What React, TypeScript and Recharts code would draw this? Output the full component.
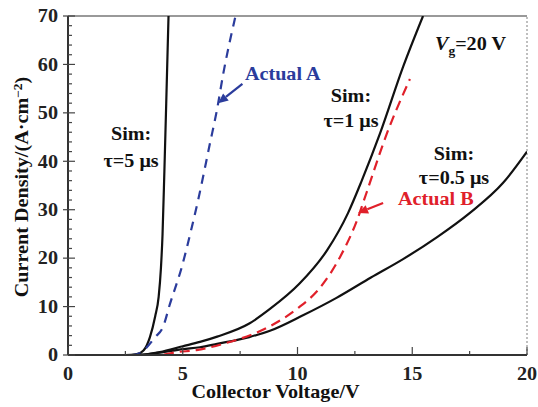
import { LineChart, Line, XAxis, YAxis, ReferenceLine, ReferenceDot } from 'recharts';

// Collector voltage (V) / current density (A·cm^-2) readings per curve
const sim5V = [0, 2.5, 3.0, 3.3, 3.57, 3.8, 3.95, 4.05, 4.12, 4.2, 4.28, 4.38];
const sim5J = [0, 0, 0.2, 1, 3.7, 8, 12, 18, 25, 38, 52, 70];

const actualAV = [0, 2.8, 3.2, 3.8, 4.14, 4.44, 4.96, 5.4, 5.67, 6.19, 6.49, 6.77, 7.3];
const actualAJ = [0, 0, 0.6, 3.7, 5.8, 10.5, 18.2, 26.5, 32, 43.8, 50.6, 58.2, 70];

const sim1V = [0, 3.0, 4, 5, 5.75, 6.5, 7.9, 8.8, 10.1, 11.3, 12.2, 12.8, 13.6, 14.6, 15.47];
const sim1J = [0, 0, 0.6, 1.8, 2.7, 3.8, 6.5, 9.5, 14.8, 21.7, 29.3, 36, 45.8, 59.5, 70];

const sim05V = [0, 3.0, 4, 5, 5.75, 6.5, 7.9, 8.8, 10.24, 11.7, 13.2, 14.6, 16.1, 17.5, 18.95, 20];
const sim05J = [0, 0, 0.5, 1.2, 1.6, 2.3, 3.7, 5.0, 8.2, 11.8, 16, 19.8, 24.4, 29.3, 35.5, 42];

const actualBV = [0, 4.0, 4.75, 5.6, 6.9, 8.0, 8.9, 10.0, 11.0, 11.85, 12.6, 13.0, 13.9, 14.9];
const actualBJ = [0, 0, 0.6, 1, 2.5, 4.2, 6.2, 9.6, 14, 20.2, 27.9, 33.4, 45.8, 57];

const xTicks = [0, 2.5, 5, 7.5, 10, 12.5, 15, 17.5, 20];
const yTicks = [0, 2, 4, 6, 8, 10, 12, 14, 16, 18, 20, 22, 24, 26, 28, 30, 32, 34, 36, 38, 40, 42, 44, 46, 48, 50, 52, 54, 56, 58, 60, 62, 64, 66, 68, 70];
const xMajor = [0, 5, 10, 15, 20];

const toPoints = (vs: number[], js: number[]) => vs.map((v, i) => ({ v, j: js[i] }));

const FONT = '"Liberation Serif", "Times New Roman", serif';
const BLUE = '#2b3c9c';
const RED = '#e0202a';
const FS = 18;
const S = 1.12; // type is set a little wide

// widen text horizontally around its anchor x
const wide = (ax: number) => `matrix(${S},0,0,1,${(1 - S) * ax},0)`;

const YTick = (props: any) => {
  const { x, y, payload } = props;
  const axisX = x + 8;
  const major = payload.value % 10 === 0;
  const tx = x - 2;
  return (
    <g>
      <line x1={major ? axisX - 5 : axisX} x2={axisX + (major ? 7 : 4)} y1={y} y2={y} stroke="#444" strokeWidth={1.2} />
      {major && (
        <text x={tx} y={y} dy="0.35em" textAnchor="end" transform={wide(tx)} fontFamily={FONT} fontWeight="bold" fontSize={FS} fill="#222">
          {payload.value}
        </text>
      )}
    </g>
  );
};

const XTick = (props: any) => {
  const { x, y, payload } = props;
  const axisY = y - 12;
  const major = xMajor.includes(payload.value);
  return (
    <g>
      <line x1={x} x2={x} y1={axisY} y2={axisY - (major ? 8 : 4)} stroke="#444" strokeWidth={1.2} />
      {major && (
        <text x={x} y={y} dy="0.71em" textAnchor="middle" transform={wide(x)} fontFamily={FONT} fontWeight="bold" fontSize={FS} fill="#222">
          {payload.value}
        </text>
      )}
    </g>
  );
};

// two-line "Sim:" notes centred on the dot
const simNote = (tau: string, gap: number) => (p: any) => {
  const { x, y } = p.viewBox;
  return (
    <text x={x} y={y} textAnchor="middle" transform={wide(x)} fontFamily={FONT} fontWeight="bold" fontSize={FS} fill="#111">
      <tspan x={x}>Sim:</tspan>
      <tspan x={x} dy={gap}>{`τ=${tau} μs`}</tspan>
    </text>
  );
};

const plainNote = (text: string, color: string) => (p: any) => {
  const { x, y } = p.viewBox;
  return (
    <text x={x} y={y} transform={wide(x)} fontFamily={FONT} fontWeight="bold" fontSize={FS} fill={color}>
      {text}
    </text>
  );
};

const gateNote = (p: any) => {
  const { x, y } = p.viewBox;
  return (
    <text x={x} y={y} transform={wide(x)} fontFamily={FONT} fontWeight="bold" fontSize={FS} fill="#111">
      <tspan fontStyle="italic">V</tspan>
      <tspan fontSize={12} dy={5}>g</tspan>
      <tspan dy={-5}>=20 V</tspan>
    </text>
  );
};

const arrow = (color: string) => (p: any) => {
  const { x1, y1, x2, y2 } = p;
  const a = Math.atan2(y2 - y1, x2 - x1);
  const len = 10;
  const w = 4.5;
  const bx = x2 - len * Math.cos(a);
  const by = y2 - len * Math.sin(a);
  const pts = `${x2},${y2} ${bx - w * Math.sin(a)},${by + w * Math.cos(a)} ${bx + w * Math.sin(a)},${by - w * Math.cos(a)}`;
  return (
    <g>
      <line x1={x1} y1={y1} x2={bx} y2={by} stroke={color} strokeWidth={2.2} />
      <polygon points={pts} fill={color} />
    </g>
  );
};

const xLabel = (p: any) => {
  const { x, y, width, height } = p.viewBox;
  const cx = x + width / 2 - 22;
  return (
    <text x={cx} y={y + height + 13} textAnchor="middle" transform={wide(cx)} fontFamily={FONT} fontWeight="bold" fontSize={FS} fill="#111">
      Collector Voltage/V
    </text>
  );
};

const yLabel = () => {
  const cx = 28;
  const cy = 187;
  return (
    <text
      x={cx}
      y={cy}
      transform={`rotate(-90, ${cx}, ${cy}) ${wide(cx)}`}
      textAnchor="middle"
      fontFamily={FONT}
      fontWeight="bold"
      fontSize={FS}
      fill="#111"
    >
      Current Density/(A·cm<tspan fontSize={12} dy={-6}>−2</tspan><tspan dy={6}>)</tspan>
    </text>
  );
};

export default function App() {
  return (
    <div style={{ position: 'absolute', left: 0, top: 0, background: '#fff' }}>
      <LineChart width={538} height={407} margin={{ top: 16, right: 11, bottom: 22, left: 0 }}>
        <XAxis
          dataKey="v"
          type="number"
          domain={[0, 20]}
          ticks={xTicks}
          interval={0}
          allowDataOverflow
          height={30}
          tickSize={0}
          tickMargin={12}
          tick={XTick}
          axisLine={{ stroke: '#333', strokeWidth: 2 }}
          label={xLabel}
        />
        <YAxis
          dataKey="j"
          type="number"
          domain={[0, 70]}
          ticks={yTicks}
          interval={0}
          allowDataOverflow
          width={68}
          tickSize={0}
          tickMargin={8}
          tick={YTick}
          axisLine={{ stroke: '#333', strokeWidth: 2 }}
          label={yLabel}
        />
        <ReferenceLine y={70} stroke="#999" strokeWidth={2} />
        <ReferenceLine x={20} stroke="#aaa" strokeWidth={1.5} strokeDasharray="2 2" />

        <Line data={toPoints(sim5V, sim5J)} dataKey="j" type="monotone" stroke="#111" strokeWidth={2.2} dot={false} isAnimationActive={false} />
        <Line data={toPoints(actualAV, actualAJ)} dataKey="j" type="monotone" stroke={BLUE} strokeWidth={2.2} strokeDasharray="9 7" dot={false} isAnimationActive={false} />
        <Line data={toPoints(sim1V, sim1J)} dataKey="j" type="monotone" stroke="#111" strokeWidth={2.2} dot={false} isAnimationActive={false} />
        <Line data={toPoints(sim05V, sim05J)} dataKey="j" type="monotone" stroke="#111" strokeWidth={2.2} dot={false} isAnimationActive={false} />
        <Line data={toPoints(actualBV, actualBJ)} dataKey="j" type="monotone" stroke={RED} strokeWidth={2.2} strokeDasharray="10 6" dot={false} isAnimationActive={false} />

        <ReferenceLine segment={[{ x: 7.6, y: 56.0 }, { x: 6.54, y: 52.0 }]} shape={arrow(BLUE)} />
        <ReferenceLine segment={[{ x: 13.73, y: 31.4 }, { x: 12.64, y: 29.3 }]} shape={arrow(RED)} />

        <ReferenceDot x={2.75} y={44.4} r={0} fill="none" stroke="none" label={simNote('5', 27)} />
        <ReferenceDot x={12.33} y={52.2} r={0} fill="none" stroke="none" label={simNote('1', 25)} />
        <ReferenceDot x={16.82} y={40.3} r={0} fill="none" stroke="none" label={simNote('0.5', 24)} />
        <ReferenceDot x={7.71} y={56.8} r={0} fill="none" stroke="none" label={plainNote('Actual A', BLUE)} />
        <ReferenceDot x={14.38} y={31.0} r={0} fill="none" stroke="none" label={plainNote('Actual B', RED)} />
        <ReferenceDot x={15.99} y={63.0} r={0} fill="none" stroke="none" label={gateNote} />
      </LineChart>
    </div>
  );
}
